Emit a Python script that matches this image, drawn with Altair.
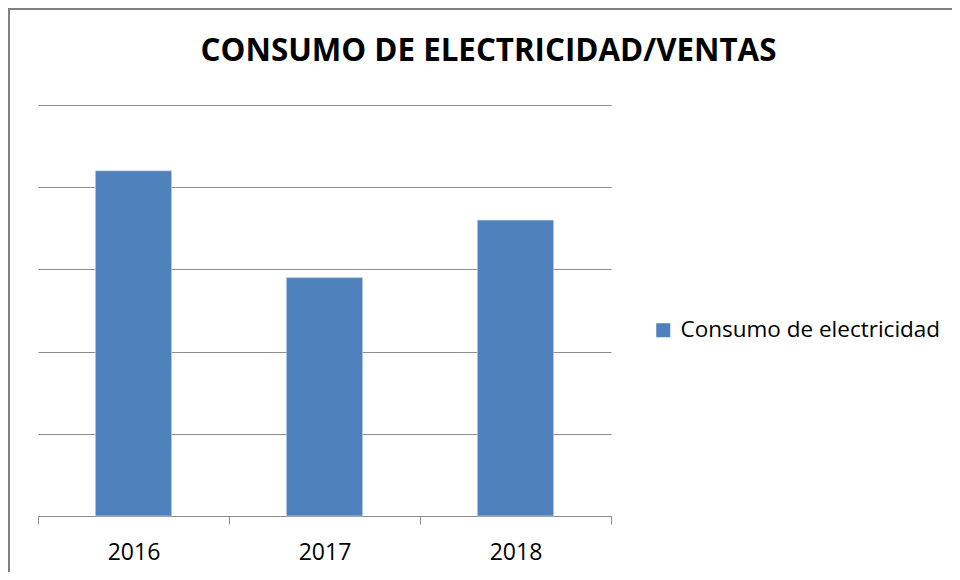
import json
import altair as alt
import pandas as pd

# ---- data ----
years = ["2016", "2017", "2018"]
consumo = [4.2, 2.9, 3.6]
serie = "Consumo de electricidad"
title_text = "CONSUMO DE ELECTRICIDAD/VENTAS"

df = pd.DataFrame({
    "year": years,
    "valor": consumo,
    "pos": list(range(1, len(years) + 1)),
    "serie": [serie] * len(years),
})

W, H = 573, 411
FONT = "Open Sans"
GRID = "#8C8C8C"
BAR = "#4F81BD"

base = alt.Chart(df)

border = alt.Chart(alt.Data(values=[{}])).mark_rect(
    fillOpacity=0, stroke="#7F7F7F", strokeWidth=2
).encode(
    x=alt.value(-29), x2=alt.value(W + 400),
    y=alt.value(-96), y2=alt.value(H + 300),
)

label_expr = (
    "datum.value % 1 == 0 ? " + json.dumps(years) + "[datum.value - 1] : ''"
)

bars = base.transform_calculate(
    lo="datum.pos - 0.2", hi="datum.pos + 0.2"
).mark_bar(stroke="#DCE6F2", strokeWidth=0.6).encode(
    x=alt.X(
        "lo:Q",
        scale=alt.Scale(domain=[0.5, len(years) + 0.5], nice=False, zero=False, padding=0),
        axis=alt.Axis(
            title=None,
            values=[0.5, 1, 1.5, 2, 2.5, 3, 3.5],
            labelExpr=label_expr,
            grid=False,
            domainColor=GRID,
            domainWidth=1,
            tickColor=GRID,
            tickSize=8,
            tickWidth=1,
            tickOpacity={"condition": {"test": "datum.value % 1 != 0", "value": 1}, "value": 0},
            labelFont=FONT,
            labelFontSize=23,
            labelColor="#000000",
            labelPadding=17,
            labelOverlap=False,
            labelFlush=False,
        ),
    ),
    x2="hi:Q",
    y=alt.Y(
        "valor:Q",
        scale=alt.Scale(domain=[0, 5], nice=False, padding=0),
        axis=alt.Axis(
            title=None, values=[0, 1, 2, 3, 4, 5], labels=False, ticks=False,
            domain=False, grid=True, gridColor=GRID, gridWidth=1,
        ),
    ),
    y2=alt.datum(0),
    color=alt.Color(
        "serie:N",
        scale=alt.Scale(range=[BAR]),
        legend=alt.Legend(
            title=None, orient="none", legendX=614, legendY=214,
            symbolType="square", symbolSize=196, symbolStrokeWidth=0,
            labelFont=FONT, labelFontSize=22.5, labelColor="#000000",
            padding=0, labelOffset=6, labelLimit=0,
        ),
    ),
)

chart = alt.layer(border, bars).properties(
    width=W,
    height=H,
    autosize=alt.AutoSizeParams(type="none"),
    padding={"left": 30, "top": 97, "right": 341, "bottom": 56},
    title=alt.TitleParams(
        title_text, font=FONT, fontSize=31.3, fontWeight="bold", color="#000000",
        anchor="middle", dx=164, offset=0, baseline="alphabetic", dy=84,
    ),
).configure_view(stroke=None)

chart.save("out.html", embed_options={"renderer": "svg", "actions": False})
